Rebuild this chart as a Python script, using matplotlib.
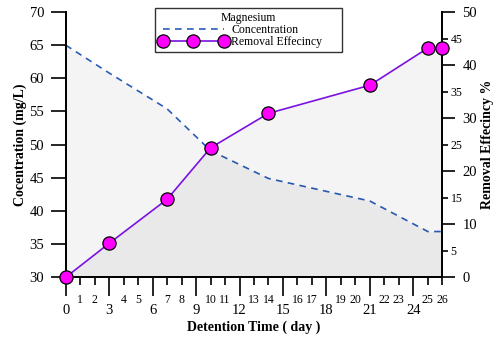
import matplotlib
matplotlib.use("Agg")
import matplotlib.pyplot as plt
from matplotlib.lines import Line2D
from matplotlib.ticker import FixedLocator, FixedFormatter

plt.rcParams['font.family'] = ['Liberation Serif', 'DejaVu Serif']

# Magnesium removal over detention time
days = [0, 3, 7, 10, 14, 21, 25, 26]
concentration = [65, 60.8, 55.4, 49.1, 44.9, 41.5, 36.9, 36.9]
removal = [0, 6.4, 14.7, 24.4, 30.9, 36.2, 43.2, 43.2]

major_days = [0, 3, 6, 9, 12, 15, 18, 21, 24]
minor_days = [1, 2, 4, 5, 7, 8, 10, 11, 13, 14, 16, 17, 19, 20, 22, 23, 25, 26]

conc_ticks = [30, 35, 40, 45, 50, 55, 60, 65, 70]
eff_major = [0, 10, 20, 30, 40, 50]
eff_minor = [5, 15, 25, 35, 45]

fig = plt.figure(figsize=(4.97, 3.40), dpi=100)
ax1 = fig.add_axes([65.7 / 497, 1 - 277.3 / 340, (442.3 - 65.7) / 497, (277.3 - 12) / 340])
ax2 = ax1.twinx()

dark_blue = '#2a5cb8'
purple = '#7b10e0'

# shaded areas under both curves
ax1.fill_between(days, concentration, 30, color='black', alpha=0.045, lw=0, zorder=0)
ax2.fill_between(days, removal, 0, color='black', alpha=0.045, lw=0, zorder=0)

ax1.plot(days, concentration, color=dark_blue, ls=(0, (4, 3.2)), lw=1.2, zorder=2)
ax2.plot(days, removal, color=purple, lw=1.2, marker='o', ms=9.5,
         mfc='#ff00ff', mec='black', mew=0.9, clip_on=False, zorder=3)

ax1.set_xlim(0, 26)
ax1.set_ylim(30, 70)
ax2.set_ylim(0, 50)

# x axis: labelled major and minor ticks
ax1.xaxis.set_major_locator(FixedLocator(major_days))
ax1.xaxis.set_major_formatter(FixedFormatter([str(d) for d in major_days]))
ax1.xaxis.set_minor_locator(FixedLocator(minor_days))
ax1.xaxis.set_minor_formatter(FixedFormatter([str(d) for d in minor_days]))
ax1.tick_params(axis='x', which='major', direction='out', length=13.5, width=1.2,
                labelsize=10.5, pad=5.5)
ax1.tick_params(axis='x', which='minor', direction='out', length=5.8, width=1.2,
                labelsize=8.5, pad=6)

ax1.set_yticks(conc_ticks)
ax1.tick_params(axis='y', which='major', direction='out', length=11, width=1.2,
                labelsize=10.5, pad=4.5)

ax2.yaxis.set_major_locator(FixedLocator(eff_major))
ax2.yaxis.set_minor_locator(FixedLocator(eff_minor))
ax2.yaxis.set_minor_formatter(FixedFormatter([str(v) for v in eff_minor]))
ax2.tick_params(axis='y', which='major', direction='out', length=9, width=1.2,
                labelsize=10.5, pad=5.5)
ax2.tick_params(axis='y', which='minor', direction='out', length=4.5, width=1.2,
                labelsize=8.5, pad=1.5)

for ax in (ax1, ax2):
    ax.spines['top'].set_visible(False)
    for s in ('left', 'right', 'bottom'):
        ax.spines[s].set_linewidth(1.3)

ax1.set_xlabel('Detention Time ( day )', fontsize=10, fontweight='bold', labelpad=2.5)
ax1.set_ylabel('Cocentration (mg/L)', fontsize=10, fontweight='bold', labelpad=2)
ax2.set_ylabel('Removal Effecincy %', fontsize=10, fontweight='bold', labelpad=3)

handles = [
    Line2D([], [], color=dark_blue, ls=(0, (4, 3.2)), lw=1.2),
    Line2D([], [], color=purple, lw=1.2, marker='o', ms=9.5,
           mfc='#ff00ff', mec='black', mew=0.9),
]
leg = ax2.legend(handles, ['Concentration', 'Removal Effecincy'], title='Magnesium',
                 loc='upper left',
                 bbox_to_anchor=(155 / 497, 1 - 52 / 340, 187 / 497, 44 / 340),
                 mode='expand', bbox_transform=fig.transFigure,
                 fontsize=8.5, title_fontsize=8.5,
                 numpoints=3, handlelength=5.8, handletextpad=0.3,
                 frameon=True, fancybox=False, borderpad=0.35, labelspacing=0.0,
                 borderaxespad=0)
leg.get_frame().set_edgecolor('black')
leg.get_frame().set_linewidth(1.0)
leg.set_zorder(10)

fig.savefig('out.png', dpi=100)
